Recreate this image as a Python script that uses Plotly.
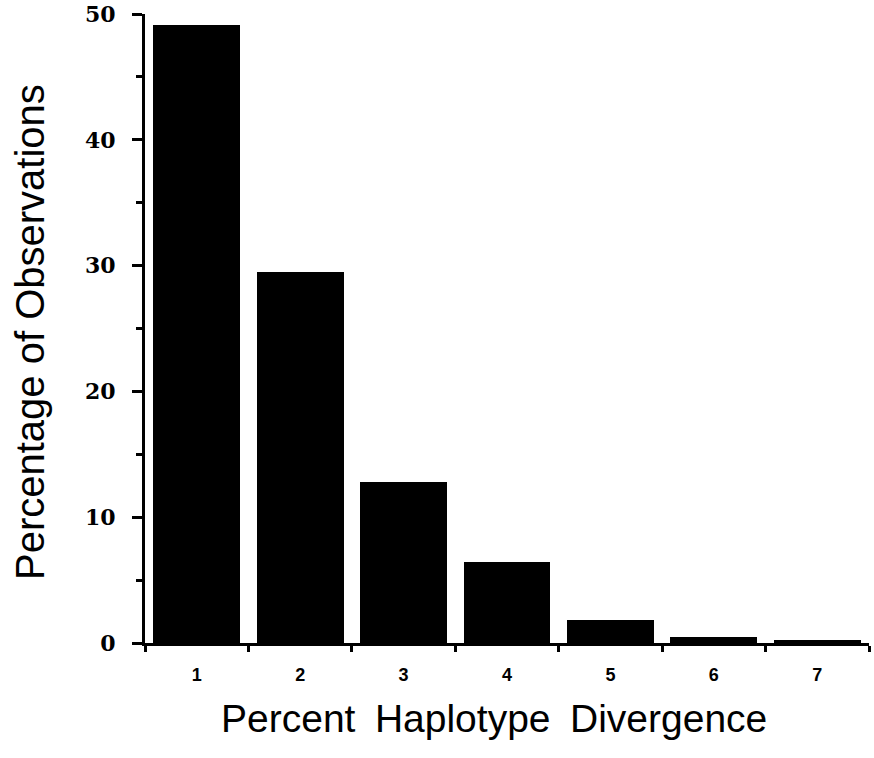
import plotly.graph_objects as go

categories = [1, 2, 3, 4, 5, 6, 7]
percentages = [49.1, 29.5, 12.8, 6.4, 1.8, 0.45, 0.25]
y_ticks = [0, 10, 20, 30, 40, 50]
x_tick_labels = ["1", "2", "3", "4", "5", "6", "7"]
x_title = "Percent\u2002Haplotype\u2002Divergence"
y_title = "Percentage of Observations"

fig = go.Figure(
    go.Bar(x=categories, y=percentages, width=0.84,
           marker=dict(color="black", line=dict(width=0)))
)

fig.update_layout(
    width=874, height=758,
    paper_bgcolor="white", plot_bgcolor="white",
    margin=dict(l=145, r=5, t=14, b=115),
    showlegend=False,
    bargap=0,
)

fig.update_xaxes(
    range=[0.5, 7.5], automargin=False,
    tickvals=categories, ticktext=x_tick_labels,
    ticks="", showgrid=False, zeroline=False,
    showline=True, linecolor="black", linewidth=3,
    tickfont=dict(family="Liberation Sans", size=18, color="black", weight="bold"),
    ticklabelstandoff=13,
    minor=dict(tick0=0.5, dtick=1, ticks="outside", ticklen=6, tickwidth=3,
               tickcolor="black", showgrid=False),
)

fig.update_yaxes(
    range=[0, 50], automargin=False,
    tickvals=y_ticks,
    ticks="outside", ticklen=10, tickwidth=3, tickcolor="black",
    showgrid=False, zeroline=False,
    showline=True, linecolor="black", linewidth=3,
    tickfont=dict(family="DejaVu Serif", size=22, color="black", weight="bold"),
    ticklabelstandoff=12,
    minor=dict(tick0=0, dtick=5, ticks="outside", ticklen=6, tickwidth=3,
               tickcolor="black", showgrid=False),
)

fig.add_annotation(
    text=x_title, xref="paper", yref="paper",
    x=(494 - 145) / 724, y=(643 - 718) / 629,
    xanchor="center", yanchor="middle", showarrow=False,
    font=dict(family="Liberation Sans", size=39, color="black"),
)
fig.add_annotation(
    text=y_title, xref="paper", yref="paper",
    x=(30 - 145) / 724, y=(643 - 332) / 629,
    xanchor="center", yanchor="middle", showarrow=False, textangle=-90,
    font=dict(family="Liberation Sans", size=40, color="black"),
)

fig.write_html(
    "out.html",
    config={"displayModeBar": False},
    post_script="document.body.style.margin='0';document.body.style.padding='0';",
)
